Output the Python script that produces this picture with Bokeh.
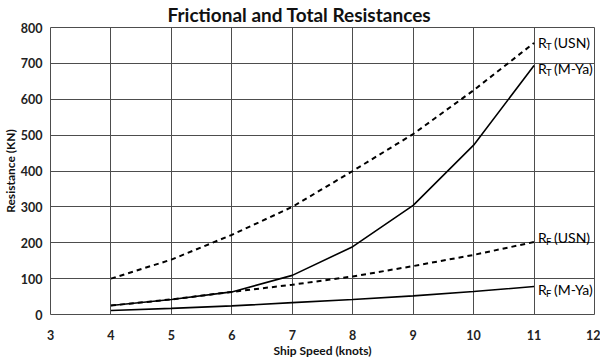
from bokeh.plotting import figure
from bokeh.models import FixedTicker, Range1d, ColumnDataSource, Title
from bokeh.core.properties import value
from bokeh.embed import file_html
from bokeh.resources import INLINE

speed = [4, 5, 6, 7, 8, 9, 10, 11]
rt_usn = [100, 153, 222, 300, 400, 503, 625, 757]
rt_mya = [25, 42, 63, 109, 189, 304, 472, 694]
rf_usn = [25, 42, 63, 83, 106, 135, 166, 202]
rf_mya = [11, 17, 24, 33, 42, 52, 64, 78]

x_ticks = [3, 4, 5, 6, 7, 8, 9, 10, 11, 12]
y_ticks = [0, 100, 200, 300, 400, 500, 600, 700, 800]

title_text = "Frictional and Total Resistances"
x_label = "Ship Speed (knots)"
y_label = "Resistance (KN)"

series = [
    ("R", "T", "(USN)", rt_usn, "dashed", 0),
    ("R", "T", "(M-Ya)", rt_mya, "solid", -3),
    ("R", "F", "(USN)", rf_usn, "dashed", 5),
    ("R", "F", "(M-Ya)", rf_mya, "solid", -3),
]

FONT = "Lato"
GRID = "#4d4d4d"

p = figure(width=600, height=360, output_backend="svg", toolbar_location=None,
           x_range=Range1d(3, 12), y_range=Range1d(0, 800),
           min_border_left=50, min_border_right=6, min_border_top=27,
           min_border_bottom=45, title=title_text)
p.title.text_font = FONT
p.title.text_font_style = "bold"
p.title.text_font_size = "19px"
p.title.text_color = "#111111"
p.title.align = "left"
p.title.offset = 117
p.title.standoff = 0
p.title.vertical_align = "top"
p.title.text_line_height = 0.6
p.background_fill_color = "white"
p.border_fill_color = "white"
p.outline_line_color = GRID
p.outline_line_width = 1

ylab = Title(text=y_label, align="center", text_font=FONT, text_font_style="bold",
             text_font_size="12px", text_color="#111111", standoff=0,
             text_line_height=0.9)
p.add_layout(ylab, "left")

for ax in (p.xaxis[0], p.yaxis[0]):
    ax.axis_line_color = None
    ax.major_tick_line_color = None
    ax.minor_tick_line_color = None
    ax.major_tick_out = 0
    ax.major_tick_in = 0
    ax.minor_tick_out = 0
    ax.minor_tick_in = 0
    ax.major_label_text_font = FONT
    ax.major_label_text_font_style = "bold"
    ax.major_label_text_font_size = "12.5px"
    ax.major_label_text_color = "#222222"
    ax.axis_label_text_font = FONT
    ax.axis_label_text_font_style = "bold"
    ax.axis_label_text_font_size = "12px"
    ax.axis_label_text_color = "#111111"

p.xaxis.ticker = FixedTicker(ticks=x_ticks)
p.yaxis.ticker = FixedTicker(ticks=y_ticks)
p.xaxis.major_label_standoff = 15
p.yaxis.major_label_standoff = 8
p.xaxis.axis_label = x_label
p.xaxis.axis_label_standoff = 0

p.xgrid.grid_line_color = GRID
p.ygrid.grid_line_color = GRID
p.xgrid.grid_line_width = 1
p.ygrid.grid_line_width = 1

for main, sub, rest, ys, dash, dy in series:
    if dash == "dashed":
        p.line(speed, ys, line_color="black", line_width=2, line_dash="5 4")
    else:
        p.line(speed, ys, line_color="black", line_width=1.6)
    xe, ye = speed[-1], ys[-1]
    src = ColumnDataSource(dict(x=[xe], y=[ye]))
    p.text(x="x", y="y", text=value(main), source=src, x_offset=4, y_offset=-dy,
           text_font=value(FONT), text_font_size="14px", text_baseline="middle",
           text_color="#000000")
    p.text(x="x", y="y", text=value(sub), source=src, x_offset=12, y_offset=-dy + 4,
           text_font=value(FONT), text_font_size="9.5px", text_baseline="middle",
           text_color="#000000")
    p.text(x="x", y="y", text=value(rest), source=src, x_offset=20, y_offset=-dy,
           text_font=value(FONT), text_font_size="14px", text_baseline="middle",
           text_color="#000000")

open("out.html", "w").write(file_html(p, INLINE))
